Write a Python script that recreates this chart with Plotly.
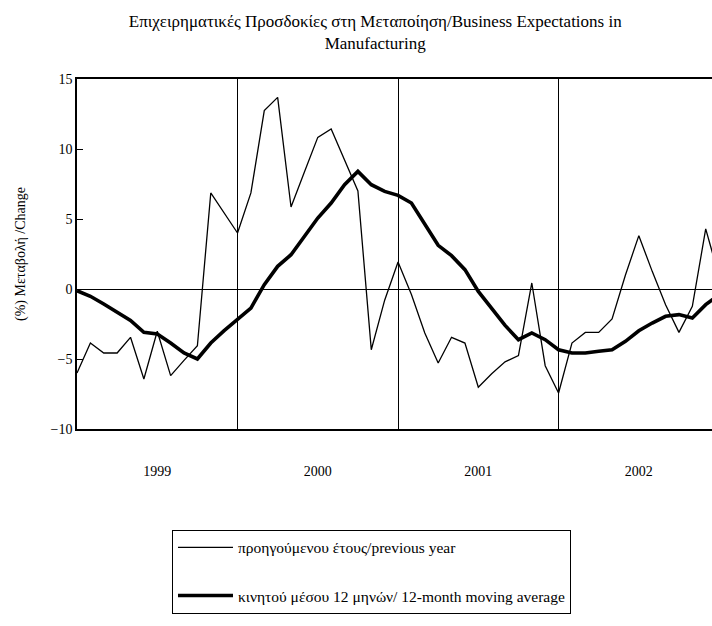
import plotly.graph_objects as go

# monthly index: 0 = Jan 1999
year_labels = ["1999", "2000", "2001", "2002"]
year_mid_month = [6, 18, 30, 42]
year_start_month = [12, 24, 36]

prev_year = [-6.0, -3.86, -4.57, -4.57, -3.45, -6.43, -3.02, -6.19, -5.1, -4.05,
             6.86, 5.43, 4.0, 6.86, 12.74, 13.69, 5.86, 8.36, 10.83, 11.43,
             9.2, 7.0, -4.34, -0.8, 1.93, -0.4, -3.14, -5.29, -3.45, -3.86,
             -7.02, -6.05, -5.2, -4.76, 0.43, -5.48, -7.43, -3.86, -3.1, -3.1,
             -2.14, 1.0, 3.81, 1.26, -1.12, -3.1, -1.24, 4.29, 0.9]

moving_avg = [-0.12, -0.52, -1.07, -1.65, -2.24, -3.1, -3.22, -3.86, -4.57, -5.0,
              -3.86, -2.98, -2.19, -1.36, 0.31, 1.62, 2.45, 3.76, 5.07, 6.14,
              7.45, 8.4, 7.45, 6.97, 6.69, 6.14, 4.59, 3.12, 2.38, 1.38,
              -0.17, -1.36, -2.6, -3.62, -3.14, -3.62, -4.34, -4.57, -4.57, -4.45,
              -4.34, -3.74, -2.98, -2.43, -1.95, -1.83, -2.07, -1.12, -0.4]

months = list(range(len(prev_year)))
serif = "Liberation Serif"

fig = go.Figure()
fig.add_trace(go.Scatter(x=months, y=prev_year, mode="lines",
                         name="προηγούμενου έτους/previous year",
                         legendgroup="a",
                         line=dict(color="black", width=1.3)))
fig.add_trace(go.Scatter(x=months, y=moving_avg, mode="lines",
                         name="κινητού μέσου 12 μηνών/ 12-month moving average",
                         legendgroup="b",
                         line=dict(color="black", width=3.6)))

fig.update_layout(
    width=712, height=626,
    margin=dict(l=77, r=0, t=79, b=197),
    paper_bgcolor="white", plot_bgcolor="white",
    font=dict(family=serif, size=14, color="black"),
    title=dict(text="Επιχειρηματικές Προσδοκίες στη Μεταποίηση/Business Expectations in<br>Manufacturing",
               x=0.527, xanchor="center", y=1 - 27 / 626, yanchor="top",
               font=dict(family=serif, size=17, color="black")),
    showlegend=True,
    legend=dict(x=0.1496, y=-0.288, xanchor="left", yanchor="top",
                bordercolor="black", borderwidth=1, bgcolor="white",
                font=dict(family=serif, size=15.5, color="black"),
                tracegroupgap=25, itemwidth=55),
)

fig.update_xaxes(range=[0, 47.47], showline=True, linecolor="black", linewidth=1.5,
                 mirror=True, tickvals=year_mid_month, ticktext=year_labels,
                 ticks="", showgrid=False, zeroline=False, ticklabelstandoff=28,
                 minor=dict(tickmode="array", tickvals=year_start_month, showgrid=True,
                            gridcolor="black", gridwidth=1, ticks=""))

fig.update_yaxes(range=[-10, 15], dtick=5, showline=True, linecolor="black", linewidth=1.5,
                 ticks="inside", ticklen=6, tickcolor="black", showgrid=False,
                 zeroline=True, zerolinecolor="black", zerolinewidth=1,
                 title=dict(text="(%) Μεταβολή /Change", standoff=22,
                            font=dict(family=serif, size=14)))

fig.write_html("out.html", config={"displayModeBar": False},
               post_script="document.body.style.margin='0';document.body.style.overflow='hidden';")
